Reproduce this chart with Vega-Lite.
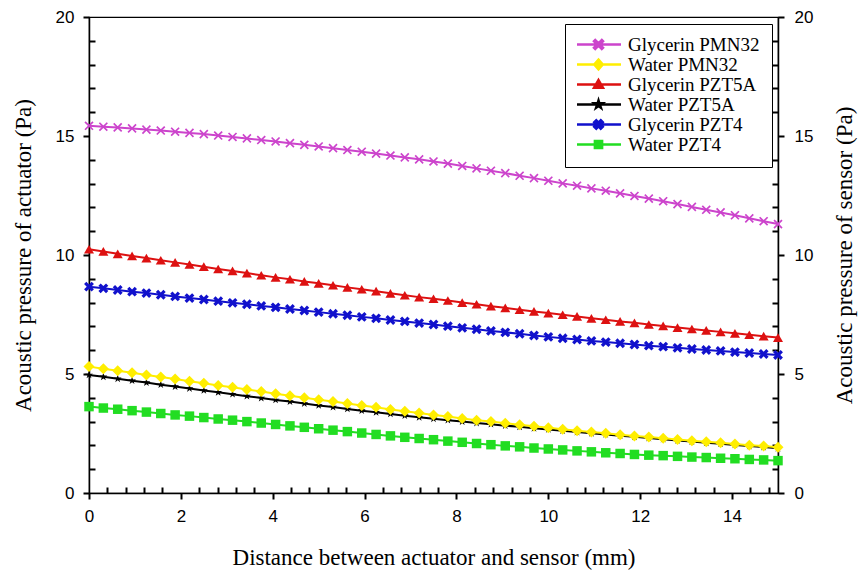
{
"$schema": "https://vega.github.io/schema/vega-lite/v6.json",
"width": 689, "height": 476,
"autosize": {"type": "none"},
"padding": {"left": 89, "top": 17, "right": 81, "bottom": 83},
"background": "white",
"config": {
 "view": {"stroke": "black", "strokeWidth": 1.2},
 "axis": {"domainColor": "black", "domainWidth": 1.5, "tickColor": "black", "tickWidth": 2, "labelFont": "Liberation Sans", "labelFontSize": 17, "labelColor": "black", "titleFont": "Liberation Serif", "titleFontSize": 23, "titleFontWeight": "normal", "titleColor": "black", "grid": false, "labelFlush": false, "labelOverlap": false},
 "legend": {"labelFont": "Liberation Serif", "labelFontSize": 19, "labelColor": "black", "labelOffset": 17, "symbolOffset": 9, "symbolSize": 506, "symbolStrokeWidth": 2.5, "symbolOpacity": 1, "fillColor": "white", "strokeColor": "black", "padding": 12, "rowPadding": 0, "clipHeight": 17}
},
"datasets": {"pts": [
{"s":"Water PZT4","x":0,"y":3.63},{"s":"Water PZT4","x":0.3125,"y":3.57},{"s":"Water PZT4","x":0.625,"y":3.52},{"s":"Water PZT4","x":0.9375,"y":3.46},{"s":"Water PZT4","x":1.25,"y":3.40},{"s":"Water PZT4","x":1.5625,"y":3.34},{"s":"Water PZT4","x":1.875,"y":3.28},{"s":"Water PZT4","x":2.1875,"y":3.23},{"s":"Water PZT4","x":2.5,"y":3.17},{"s":"Water PZT4","x":2.8125,"y":3.11},{"s":"Water PZT4","x":3.125,"y":3.06},{"s":"Water PZT4","x":3.4375,"y":3.00},{"s":"Water PZT4","x":3.75,"y":2.94},{"s":"Water PZT4","x":4.0625,"y":2.88},{"s":"Water PZT4","x":4.375,"y":2.82},{"s":"Water PZT4","x":4.6875,"y":2.76},{"s":"Water PZT4","x":5,"y":2.70},{"s":"Water PZT4","x":5.3125,"y":2.64},{"s":"Water PZT4","x":5.625,"y":2.58},{"s":"Water PZT4","x":5.9375,"y":2.52},{"s":"Water PZT4","x":6.25,"y":2.46},{"s":"Water PZT4","x":6.5625,"y":2.40},{"s":"Water PZT4","x":6.875,"y":2.34},{"s":"Water PZT4","x":7.1875,"y":2.29},{"s":"Water PZT4","x":7.5,"y":2.24},{"s":"Water PZT4","x":7.8125,"y":2.18},{"s":"Water PZT4","x":8.125,"y":2.13},{"s":"Water PZT4","x":8.4375,"y":2.08},{"s":"Water PZT4","x":8.75,"y":2.03},{"s":"Water PZT4","x":9.0625,"y":1.98},{"s":"Water PZT4","x":9.375,"y":1.94},{"s":"Water PZT4","x":9.6875,"y":1.89},{"s":"Water PZT4","x":10,"y":1.85},{"s":"Water PZT4","x":10.3125,"y":1.81},{"s":"Water PZT4","x":10.625,"y":1.77},{"s":"Water PZT4","x":10.9375,"y":1.73},{"s":"Water PZT4","x":11.25,"y":1.69},{"s":"Water PZT4","x":11.5625,"y":1.66},{"s":"Water PZT4","x":11.875,"y":1.62},{"s":"Water PZT4","x":12.1875,"y":1.59},{"s":"Water PZT4","x":12.5,"y":1.57},{"s":"Water PZT4","x":12.8125,"y":1.54},{"s":"Water PZT4","x":13.125,"y":1.51},{"s":"Water PZT4","x":13.4375,"y":1.49},{"s":"Water PZT4","x":13.75,"y":1.46},{"s":"Water PZT4","x":14.0625,"y":1.44},{"s":"Water PZT4","x":14.375,"y":1.41},{"s":"Water PZT4","x":14.6875,"y":1.39},{"s":"Water PZT4","x":15,"y":1.36},
{"s":"Glycerin PZT4","x":0,"y":8.67},{"s":"Glycerin PZT4","x":0.3125,"y":8.60},{"s":"Glycerin PZT4","x":0.625,"y":8.53},{"s":"Glycerin PZT4","x":0.9375,"y":8.46},{"s":"Glycerin PZT4","x":1.25,"y":8.40},{"s":"Glycerin PZT4","x":1.5625,"y":8.33},{"s":"Glycerin PZT4","x":1.875,"y":8.26},{"s":"Glycerin PZT4","x":2.1875,"y":8.19},{"s":"Glycerin PZT4","x":2.5,"y":8.13},{"s":"Glycerin PZT4","x":2.8125,"y":8.06},{"s":"Glycerin PZT4","x":3.125,"y":7.99},{"s":"Glycerin PZT4","x":3.4375,"y":7.93},{"s":"Glycerin PZT4","x":3.75,"y":7.86},{"s":"Glycerin PZT4","x":4.0625,"y":7.80},{"s":"Glycerin PZT4","x":4.375,"y":7.73},{"s":"Glycerin PZT4","x":4.6875,"y":7.67},{"s":"Glycerin PZT4","x":5,"y":7.60},{"s":"Glycerin PZT4","x":5.3125,"y":7.53},{"s":"Glycerin PZT4","x":5.625,"y":7.47},{"s":"Glycerin PZT4","x":5.9375,"y":7.40},{"s":"Glycerin PZT4","x":6.25,"y":7.34},{"s":"Glycerin PZT4","x":6.5625,"y":7.27},{"s":"Glycerin PZT4","x":6.875,"y":7.21},{"s":"Glycerin PZT4","x":7.1875,"y":7.14},{"s":"Glycerin PZT4","x":7.5,"y":7.08},{"s":"Glycerin PZT4","x":7.8125,"y":7.01},{"s":"Glycerin PZT4","x":8.125,"y":6.94},{"s":"Glycerin PZT4","x":8.4375,"y":6.88},{"s":"Glycerin PZT4","x":8.75,"y":6.81},{"s":"Glycerin PZT4","x":9.0625,"y":6.75},{"s":"Glycerin PZT4","x":9.375,"y":6.69},{"s":"Glycerin PZT4","x":9.6875,"y":6.62},{"s":"Glycerin PZT4","x":10,"y":6.56},{"s":"Glycerin PZT4","x":10.3125,"y":6.50},{"s":"Glycerin PZT4","x":10.625,"y":6.45},{"s":"Glycerin PZT4","x":10.9375,"y":6.39},{"s":"Glycerin PZT4","x":11.25,"y":6.34},{"s":"Glycerin PZT4","x":11.5625,"y":6.29},{"s":"Glycerin PZT4","x":11.875,"y":6.24},{"s":"Glycerin PZT4","x":12.1875,"y":6.19},{"s":"Glycerin PZT4","x":12.5,"y":6.15},{"s":"Glycerin PZT4","x":12.8125,"y":6.10},{"s":"Glycerin PZT4","x":13.125,"y":6.05},{"s":"Glycerin PZT4","x":13.4375,"y":6.01},{"s":"Glycerin PZT4","x":13.75,"y":5.97},{"s":"Glycerin PZT4","x":14.0625,"y":5.92},{"s":"Glycerin PZT4","x":14.375,"y":5.88},{"s":"Glycerin PZT4","x":14.6875,"y":5.84},{"s":"Glycerin PZT4","x":15,"y":5.80},
{"s":"Water PZT5A","x":0,"y":4.96},{"s":"Water PZT5A","x":0.3125,"y":4.88},{"s":"Water PZT5A","x":0.625,"y":4.80},{"s":"Water PZT5A","x":0.9375,"y":4.72},{"s":"Water PZT5A","x":1.25,"y":4.64},{"s":"Water PZT5A","x":1.5625,"y":4.55},{"s":"Water PZT5A","x":1.875,"y":4.47},{"s":"Water PZT5A","x":2.1875,"y":4.39},{"s":"Water PZT5A","x":2.5,"y":4.31},{"s":"Water PZT5A","x":2.8125,"y":4.23},{"s":"Water PZT5A","x":3.125,"y":4.15},{"s":"Water PZT5A","x":3.4375,"y":4.07},{"s":"Water PZT5A","x":3.75,"y":3.99},{"s":"Water PZT5A","x":4.0625,"y":3.91},{"s":"Water PZT5A","x":4.375,"y":3.84},{"s":"Water PZT5A","x":4.6875,"y":3.76},{"s":"Water PZT5A","x":5,"y":3.68},{"s":"Water PZT5A","x":5.3125,"y":3.61},{"s":"Water PZT5A","x":5.625,"y":3.53},{"s":"Water PZT5A","x":5.9375,"y":3.46},{"s":"Water PZT5A","x":6.25,"y":3.39},{"s":"Water PZT5A","x":6.5625,"y":3.32},{"s":"Water PZT5A","x":6.875,"y":3.25},{"s":"Water PZT5A","x":7.1875,"y":3.18},{"s":"Water PZT5A","x":7.5,"y":3.12},{"s":"Water PZT5A","x":7.8125,"y":3.06},{"s":"Water PZT5A","x":8.125,"y":3.00},{"s":"Water PZT5A","x":8.4375,"y":2.94},{"s":"Water PZT5A","x":8.75,"y":2.89},{"s":"Water PZT5A","x":9.0625,"y":2.83},{"s":"Water PZT5A","x":9.375,"y":2.78},{"s":"Water PZT5A","x":9.6875,"y":2.72},{"s":"Water PZT5A","x":10,"y":2.67},{"s":"Water PZT5A","x":10.3125,"y":2.62},{"s":"Water PZT5A","x":10.625,"y":2.56},{"s":"Water PZT5A","x":10.9375,"y":2.51},{"s":"Water PZT5A","x":11.25,"y":2.46},{"s":"Water PZT5A","x":11.5625,"y":2.41},{"s":"Water PZT5A","x":11.875,"y":2.36},{"s":"Water PZT5A","x":12.1875,"y":2.31},{"s":"Water PZT5A","x":12.5,"y":2.26},{"s":"Water PZT5A","x":12.8125,"y":2.21},{"s":"Water PZT5A","x":13.125,"y":2.16},{"s":"Water PZT5A","x":13.4375,"y":2.11},{"s":"Water PZT5A","x":13.75,"y":2.07},{"s":"Water PZT5A","x":14.0625,"y":2.02},{"s":"Water PZT5A","x":14.375,"y":1.97},{"s":"Water PZT5A","x":14.6875,"y":1.93},{"s":"Water PZT5A","x":15,"y":1.88},
{"s":"Water PMN32","x":0,"y":5.31},{"s":"Water PMN32","x":0.3125,"y":5.22},{"s":"Water PMN32","x":0.625,"y":5.14},{"s":"Water PMN32","x":0.9375,"y":5.05},{"s":"Water PMN32","x":1.25,"y":4.96},{"s":"Water PMN32","x":1.5625,"y":4.87},{"s":"Water PMN32","x":1.875,"y":4.79},{"s":"Water PMN32","x":2.1875,"y":4.70},{"s":"Water PMN32","x":2.5,"y":4.61},{"s":"Water PMN32","x":2.8125,"y":4.52},{"s":"Water PMN32","x":3.125,"y":4.44},{"s":"Water PMN32","x":3.4375,"y":4.35},{"s":"Water PMN32","x":3.75,"y":4.26},{"s":"Water PMN32","x":4.0625,"y":4.17},{"s":"Water PMN32","x":4.375,"y":4.09},{"s":"Water PMN32","x":4.6875,"y":4.00},{"s":"Water PMN32","x":5,"y":3.92},{"s":"Water PMN32","x":5.3125,"y":3.84},{"s":"Water PMN32","x":5.625,"y":3.76},{"s":"Water PMN32","x":5.9375,"y":3.68},{"s":"Water PMN32","x":6.25,"y":3.60},{"s":"Water PMN32","x":6.5625,"y":3.51},{"s":"Water PMN32","x":6.875,"y":3.43},{"s":"Water PMN32","x":7.1875,"y":3.36},{"s":"Water PMN32","x":7.5,"y":3.28},{"s":"Water PMN32","x":7.8125,"y":3.21},{"s":"Water PMN32","x":8.125,"y":3.13},{"s":"Water PMN32","x":8.4375,"y":3.06},{"s":"Water PMN32","x":8.75,"y":3.00},{"s":"Water PMN32","x":9.0625,"y":2.93},{"s":"Water PMN32","x":9.375,"y":2.87},{"s":"Water PMN32","x":9.6875,"y":2.80},{"s":"Water PMN32","x":10,"y":2.74},{"s":"Water PMN32","x":10.3125,"y":2.68},{"s":"Water PMN32","x":10.625,"y":2.62},{"s":"Water PMN32","x":10.9375,"y":2.56},{"s":"Water PMN32","x":11.25,"y":2.51},{"s":"Water PMN32","x":11.5625,"y":2.45},{"s":"Water PMN32","x":11.875,"y":2.40},{"s":"Water PMN32","x":12.1875,"y":2.35},{"s":"Water PMN32","x":12.5,"y":2.30},{"s":"Water PMN32","x":12.8125,"y":2.25},{"s":"Water PMN32","x":13.125,"y":2.20},{"s":"Water PMN32","x":13.4375,"y":2.15},{"s":"Water PMN32","x":13.75,"y":2.11},{"s":"Water PMN32","x":14.0625,"y":2.06},{"s":"Water PMN32","x":14.375,"y":2.01},{"s":"Water PMN32","x":14.6875,"y":1.97},{"s":"Water PMN32","x":15,"y":1.92},
{"s":"Glycerin PZT5A","x":0,"y":10.24},{"s":"Glycerin PZT5A","x":0.3125,"y":10.15},{"s":"Glycerin PZT5A","x":0.625,"y":10.05},{"s":"Glycerin PZT5A","x":0.9375,"y":9.96},{"s":"Glycerin PZT5A","x":1.25,"y":9.87},{"s":"Glycerin PZT5A","x":1.5625,"y":9.78},{"s":"Glycerin PZT5A","x":1.875,"y":9.69},{"s":"Glycerin PZT5A","x":2.1875,"y":9.60},{"s":"Glycerin PZT5A","x":2.5,"y":9.51},{"s":"Glycerin PZT5A","x":2.8125,"y":9.41},{"s":"Glycerin PZT5A","x":3.125,"y":9.33},{"s":"Glycerin PZT5A","x":3.4375,"y":9.24},{"s":"Glycerin PZT5A","x":3.75,"y":9.15},{"s":"Glycerin PZT5A","x":4.0625,"y":9.06},{"s":"Glycerin PZT5A","x":4.375,"y":8.98},{"s":"Glycerin PZT5A","x":4.6875,"y":8.89},{"s":"Glycerin PZT5A","x":5,"y":8.81},{"s":"Glycerin PZT5A","x":5.3125,"y":8.73},{"s":"Glycerin PZT5A","x":5.625,"y":8.64},{"s":"Glycerin PZT5A","x":5.9375,"y":8.56},{"s":"Glycerin PZT5A","x":6.25,"y":8.48},{"s":"Glycerin PZT5A","x":6.5625,"y":8.39},{"s":"Glycerin PZT5A","x":6.875,"y":8.31},{"s":"Glycerin PZT5A","x":7.1875,"y":8.23},{"s":"Glycerin PZT5A","x":7.5,"y":8.16},{"s":"Glycerin PZT5A","x":7.8125,"y":8.09},{"s":"Glycerin PZT5A","x":8.125,"y":8.00},{"s":"Glycerin PZT5A","x":8.4375,"y":7.93},{"s":"Glycerin PZT5A","x":8.75,"y":7.85},{"s":"Glycerin PZT5A","x":9.0625,"y":7.78},{"s":"Glycerin PZT5A","x":9.375,"y":7.70},{"s":"Glycerin PZT5A","x":9.6875,"y":7.63},{"s":"Glycerin PZT5A","x":10,"y":7.56},{"s":"Glycerin PZT5A","x":10.3125,"y":7.49},{"s":"Glycerin PZT5A","x":10.625,"y":7.42},{"s":"Glycerin PZT5A","x":10.9375,"y":7.34},{"s":"Glycerin PZT5A","x":11.25,"y":7.28},{"s":"Glycerin PZT5A","x":11.5625,"y":7.21},{"s":"Glycerin PZT5A","x":11.875,"y":7.15},{"s":"Glycerin PZT5A","x":12.1875,"y":7.08},{"s":"Glycerin PZT5A","x":12.5,"y":7.02},{"s":"Glycerin PZT5A","x":12.8125,"y":6.95},{"s":"Glycerin PZT5A","x":13.125,"y":6.89},{"s":"Glycerin PZT5A","x":13.4375,"y":6.83},{"s":"Glycerin PZT5A","x":13.75,"y":6.77},{"s":"Glycerin PZT5A","x":14.0625,"y":6.71},{"s":"Glycerin PZT5A","x":14.375,"y":6.65},{"s":"Glycerin PZT5A","x":14.6875,"y":6.59},{"s":"Glycerin PZT5A","x":15,"y":6.53},
{"s":"Glycerin PMN32","x":0,"y":15.43},{"s":"Glycerin PMN32","x":0.3125,"y":15.39},{"s":"Glycerin PMN32","x":0.625,"y":15.36},{"s":"Glycerin PMN32","x":0.9375,"y":15.32},{"s":"Glycerin PMN32","x":1.25,"y":15.27},{"s":"Glycerin PMN32","x":1.5625,"y":15.23},{"s":"Glycerin PMN32","x":1.875,"y":15.18},{"s":"Glycerin PMN32","x":2.1875,"y":15.13},{"s":"Glycerin PMN32","x":2.5,"y":15.08},{"s":"Glycerin PMN32","x":2.8125,"y":15.02},{"s":"Glycerin PMN32","x":3.125,"y":14.96},{"s":"Glycerin PMN32","x":3.4375,"y":14.90},{"s":"Glycerin PMN32","x":3.75,"y":14.83},{"s":"Glycerin PMN32","x":4.0625,"y":14.77},{"s":"Glycerin PMN32","x":4.375,"y":14.70},{"s":"Glycerin PMN32","x":4.6875,"y":14.63},{"s":"Glycerin PMN32","x":5,"y":14.56},{"s":"Glycerin PMN32","x":5.3125,"y":14.49},{"s":"Glycerin PMN32","x":5.625,"y":14.41},{"s":"Glycerin PMN32","x":5.9375,"y":14.34},{"s":"Glycerin PMN32","x":6.25,"y":14.26},{"s":"Glycerin PMN32","x":6.5625,"y":14.18},{"s":"Glycerin PMN32","x":6.875,"y":14.10},{"s":"Glycerin PMN32","x":7.1875,"y":14.02},{"s":"Glycerin PMN32","x":7.5,"y":13.93},{"s":"Glycerin PMN32","x":7.8125,"y":13.84},{"s":"Glycerin PMN32","x":8.125,"y":13.74},{"s":"Glycerin PMN32","x":8.4375,"y":13.64},{"s":"Glycerin PMN32","x":8.75,"y":13.54},{"s":"Glycerin PMN32","x":9.0625,"y":13.44},{"s":"Glycerin PMN32","x":9.375,"y":13.33},{"s":"Glycerin PMN32","x":9.6875,"y":13.23},{"s":"Glycerin PMN32","x":10,"y":13.12},{"s":"Glycerin PMN32","x":10.3125,"y":13.01},{"s":"Glycerin PMN32","x":10.625,"y":12.91},{"s":"Glycerin PMN32","x":10.9375,"y":12.80},{"s":"Glycerin PMN32","x":11.25,"y":12.70},{"s":"Glycerin PMN32","x":11.5625,"y":12.59},{"s":"Glycerin PMN32","x":11.875,"y":12.48},{"s":"Glycerin PMN32","x":12.1875,"y":12.37},{"s":"Glycerin PMN32","x":12.5,"y":12.26},{"s":"Glycerin PMN32","x":12.8125,"y":12.14},{"s":"Glycerin PMN32","x":13.125,"y":12.02},{"s":"Glycerin PMN32","x":13.4375,"y":11.90},{"s":"Glycerin PMN32","x":13.75,"y":11.79},{"s":"Glycerin PMN32","x":14.0625,"y":11.67},{"s":"Glycerin PMN32","x":14.375,"y":11.54},{"s":"Glycerin PMN32","x":14.6875,"y":11.42},{"s":"Glycerin PMN32","x":15,"y":11.30}
]},
"data": {"name": "pts"},
"encoding": {
 "x": {"field": "x", "type": "quantitative", "scale": {"domain": [0, 15], "nice": false, "zero": false}},
 "y": {"field": "y", "type": "quantitative", "scale": {"domain": [0, 20], "nice": false}}
},
"layer": [
 {
  "mark": {"type": "line", "strokeWidth": 2},
  "encoding": {
   "x": {"field": "x", "type": "quantitative",
    "axis": {"orient": "bottom", "values": [0,2,4,6,8,10,12,14], "tickSize": 6, "labelPadding": 9,
     "title": "Distance between actuator and sensor (mm)", "titlePadding": 22}},
   "y": {"field": "y", "type": "quantitative",
    "axis": {"orient": "left", "values": [0,5,10,15,20], "tickSize": 6, "labelPadding": 9,
     "title": "Acoustic pressure of actuator (Pa)", "titlePadding": 20}},
   "color": {"field": "s", "type": "nominal",
    "scale": {"domain": ["Glycerin PMN32","Water PMN32","Glycerin PZT5A","Water PZT5A","Glycerin PZT4","Water PZT4"],
     "range": ["#cc44cc","#ffee00","#dd1111","#000000","#1111cc","#22dd22"]}}
  }
 },
 {
  "transform": [{"filter": "datum.s === 'Water PZT4'"}],
  "mark": {"type": "point", "filled": true, "opacity": 1, "shape": "square", "size": 90, "color": "#22dd22"},
  "encoding": {
   "x": {"field": "x", "type": "quantitative",
    "axis": {"orient": "top", "offset": -476, "values": [0.4,0.8,1.2,1.6,2.4,2.8,3.2,3.6,4.4,4.8,5.2,5.6,6.4,6.8,7.2,7.6,8.4,8.8,9.2,9.6,10.4,10.8,11.2,11.6,12.4,12.8,13.2,13.6,14.4,14.8],
     "ticks": true, "tickSize": 6, "tickColor": "black", "tickWidth": 2, "labels": true, "labelOpacity": 0, "labelExpr": "''", "domain": true, "domainOpacity": 0, "title": " ", "titleOpacity": 0}},
   "y": {"field": "y", "type": "quantitative",
    "axis": {"orient": "right", "offset": -689, "values": [1,2,3,4,6,7,8,9,11,12,13,14,16,17,18,19],
     "ticks": true, "tickSize": 6, "tickColor": "black", "tickWidth": 2, "labels": true, "labelOpacity": 0, "labelExpr": "''", "domain": true, "domainOpacity": 0, "title": " ", "titleOpacity": 0}}
  }
 },
 {
  "transform": [{"filter": "datum.s === 'Glycerin PZT4'"}],
  "mark": {"type": "point", "filled": true, "opacity": 1, "size": 80, "color": "#1111cc",
   "shape": "M0.594,-1.103L1.103,-0.594L0.509,0L1.103,0.594L0.594,1.103L0,0.509L-0.594,1.103L-1.103,0.594L-0.509,0L-1.103,-0.594L-0.594,-1.103L0,-0.509Z"},
  "encoding": {
   "x": {"field": "x", "type": "quantitative", "axis": null},
   "y": {"field": "y", "type": "quantitative",
    "axis": {"orient": "right", "values": [0,5,10,15,20], "tickSize": 6, "labelPadding": 10,
     "title": "Acoustic pressure of sensor (Pa)", "titleAngle": 270, "titlePadding": 44}}
  }
 },
 {
  "transform": [{"filter": "datum.s === 'Water PZT5A'"}],
  "mark": {"type": "point", "filled": true, "opacity": 1, "size": 70, "color": "#000000",
   "shape": "M0,-1L0.223,-0.307L0.951,-0.309L0.361,0.117L0.588,0.809L0,0.38L-0.588,0.809L-0.361,0.117L-0.951,-0.309L-0.223,-0.307Z"},
  "encoding": {
   "x": {"field": "x", "type": "quantitative", "axis": null},
   "y": {"field": "y", "type": "quantitative",
    "axis": {"orient": "left", "offset": -689, "values": [1,2,3,4,6,7,8,9,11,12,13,14,16,17,18,19],
     "ticks": true, "tickSize": 6, "tickColor": "black", "tickWidth": 2, "labels": true, "labelOpacity": 0, "labelExpr": "''", "domain": true, "domainOpacity": 0, "title": " ", "titleOpacity": 0}}
  }
 },
 {
  "transform": [{"filter": "datum.s === 'Water PMN32'"}],
  "mark": {"type": "point", "filled": true, "opacity": 1, "shape": "diamond", "size": 121, "color": "#ffee00"},
  "encoding": {
   "x": {"field": "x", "type": "quantitative", "axis": null},
   "y": {"field": "y", "type": "quantitative", "axis": null}
  }
 },
 {
  "transform": [{"filter": "datum.s === 'Glycerin PZT5A'"}],
  "mark": {"type": "point", "filled": true, "opacity": 1, "shape": "triangle-up", "size": 100, "color": "#dd1111"},
  "encoding": {
   "x": {"field": "x", "type": "quantitative", "axis": null},
   "y": {"field": "y", "type": "quantitative", "axis": null}
  }
 },
 {
  "transform": [{"filter": "datum.s === 'Glycerin PMN32'"}],
  "mark": {"type": "point", "filled": true, "opacity": 1, "size": 75, "color": "#cc44cc",
   "shape": "M0.781,-1.057L1.057,-0.781L0.276,0L1.057,0.781L0.781,1.057L0,0.276L-0.781,1.057L-1.057,0.781L-0.276,0L-1.057,-0.781L-0.781,-1.057L0,-0.276Z"},
  "encoding": {
   "x": {"field": "x", "type": "quantitative", "axis": null},
   "y": {"field": "y", "type": "quantitative", "axis": null}
  }
 },
 {
  "transform": [{"filter": "false"}],
  "mark": {"type": "point", "filled": true, "opacity": 1},
  "encoding": {
   "x": {"field": "x", "type": "quantitative", "axis": null},
   "y": {"field": "y", "type": "quantitative", "axis": null},
   "color": {"field": "s", "type": "nominal"},
   "stroke": {"field": "s", "type": "nominal",
    "scale": {"domain": ["Glycerin PMN32","Water PMN32","Glycerin PZT5A","Water PZT5A","Glycerin PZT4","Water PZT4"],
     "range": ["#cc44cc","#ffee00","#dd1111","#000000","#1111cc","#22dd22"]}},
   "shape": {"field": "s", "type": "nominal",
    "scale": {"domain": ["Glycerin PMN32","Water PMN32","Glycerin PZT5A","Water PZT5A","Glycerin PZT4","Water PZT4"],
     "range": ["M-2,0L2,0M0.29,-0.4L0.4,-0.29L0.1,0L0.4,0.29L0.29,0.4L0,0.1L-0.29,0.4L-0.4,0.29L-0.1,0L-0.4,-0.29L-0.29,-0.4L0,-0.1Z",
      "M-2,0L2,0M0,-0.44L0.38,0L0,0.44L-0.38,0Z",
      "M-2,0L2,0M0,-0.4L0.4,0.3L-0.4,0.3Z",
      "M-2,0L2,0M0,-0.36L0.08,-0.11L0.342,-0.112L0.13,0.042L0.212,0.292L0,0.136L-0.212,0.292L-0.13,0.042L-0.342,-0.112L-0.08,-0.11Z",
      "M-2,0L2,0M0.2,-0.38L0.38,-0.2L0.17,0L0.38,0.2L0.2,0.38L0,0.17L-0.2,0.38L-0.38,0.2L-0.17,0L-0.38,-0.2L-0.2,-0.38L0,-0.17Z",
      "M-2,0L2,0M-0.32,-0.32L0.32,-0.32L0.32,0.32L-0.32,0.32Z"]},
    "legend": {"orient": "none", "legendX": 476, "legendY": 7, "title": null}}
  }
 }
],
"resolve": {"axis": {"x": "independent", "y": "independent"}}
}
